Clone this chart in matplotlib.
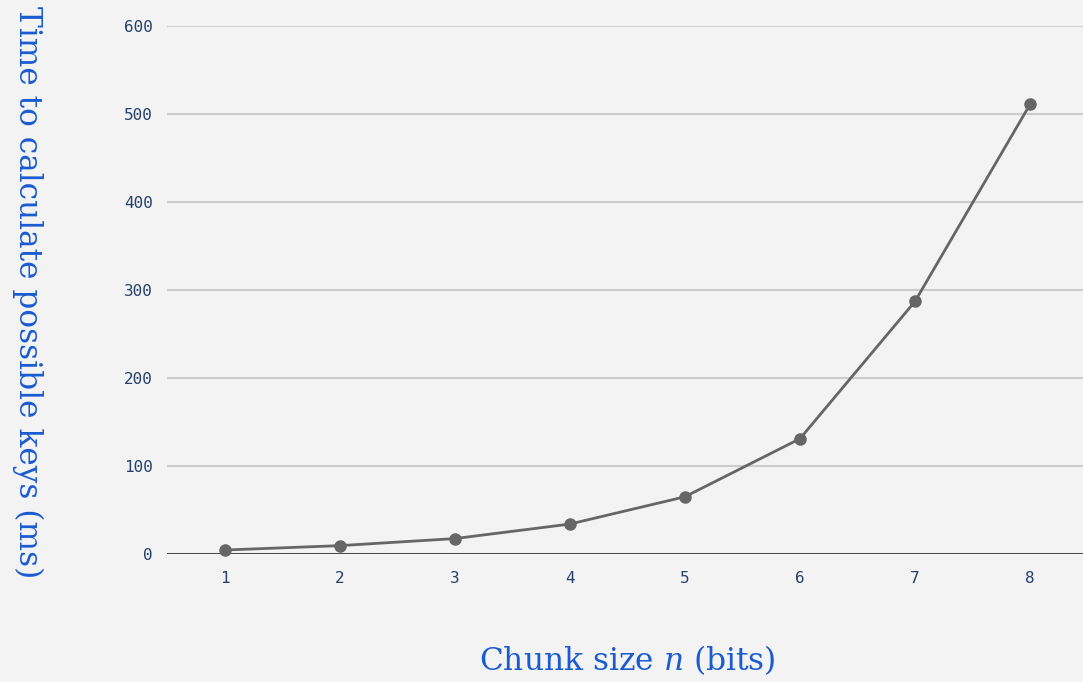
import matplotlib.pyplot as plt

# chunk size vs. time to compute the candidate keys
chunk_sizes = [1, 2, 3, 4, 5, 6, 7, 8]
times_ms = [4.5, 9.5, 17.5, 34, 65, 131, 287, 511]
y_ticks = [0, 100, 200, 300, 400, 500, 600]

bg = "#f3f3f3"
tick_col = "#24406e"
label_col = "#1a5bd0"

plt.rcParams["mathtext.fontset"] = "dejavuserif"

fig = plt.figure(figsize=(10.83, 6.82), dpi=100, facecolor=bg)
ax = fig.add_axes([167 / 1083, 1 - 554 / 682, 1 - 167 / 1083, (554 - 26) / 682])
ax.set_facecolor(bg)

ax.plot(chunk_sizes, times_ms, color="#666666", lw=2, marker="o", ms=8,
        clip_on=False, zorder=3)

ax.set_xlim(0.5, 8.46)
ax.set_ylim(0, 600)
ax.set_xticks(chunk_sizes)
ax.set_yticks(y_ticks)
ax.grid(axis="y", color="#cccccc", lw=1.5)
ax.axhline(0, color="#333333", lw=1.2, zorder=2)
for s in ax.spines.values():
    s.set_visible(False)
ax.tick_params(length=0, labelsize=11.5, labelcolor=tick_col)
ax.tick_params(axis="y", pad=10)
ax.tick_params(axis="x", pad=12)
for lab in ax.get_xticklabels() + ax.get_yticklabels():
    lab.set_family("DejaVu Sans Mono")

fig.text(627 / 1083, 1 - 660 / 682, r"Chunk size $n$ (bits)", ha="center", va="center",
         fontsize=22.5, color=label_col, family="DejaVu Serif")
fig.text(28 / 1083, 1 - 292 / 682, "Time to calculate possible keys (ms)", rotation=-90,
         ha="center", va="center", fontsize=22.5, color=label_col, family="DejaVu Serif")

fig.savefig("out.png", dpi=100, facecolor=bg)
